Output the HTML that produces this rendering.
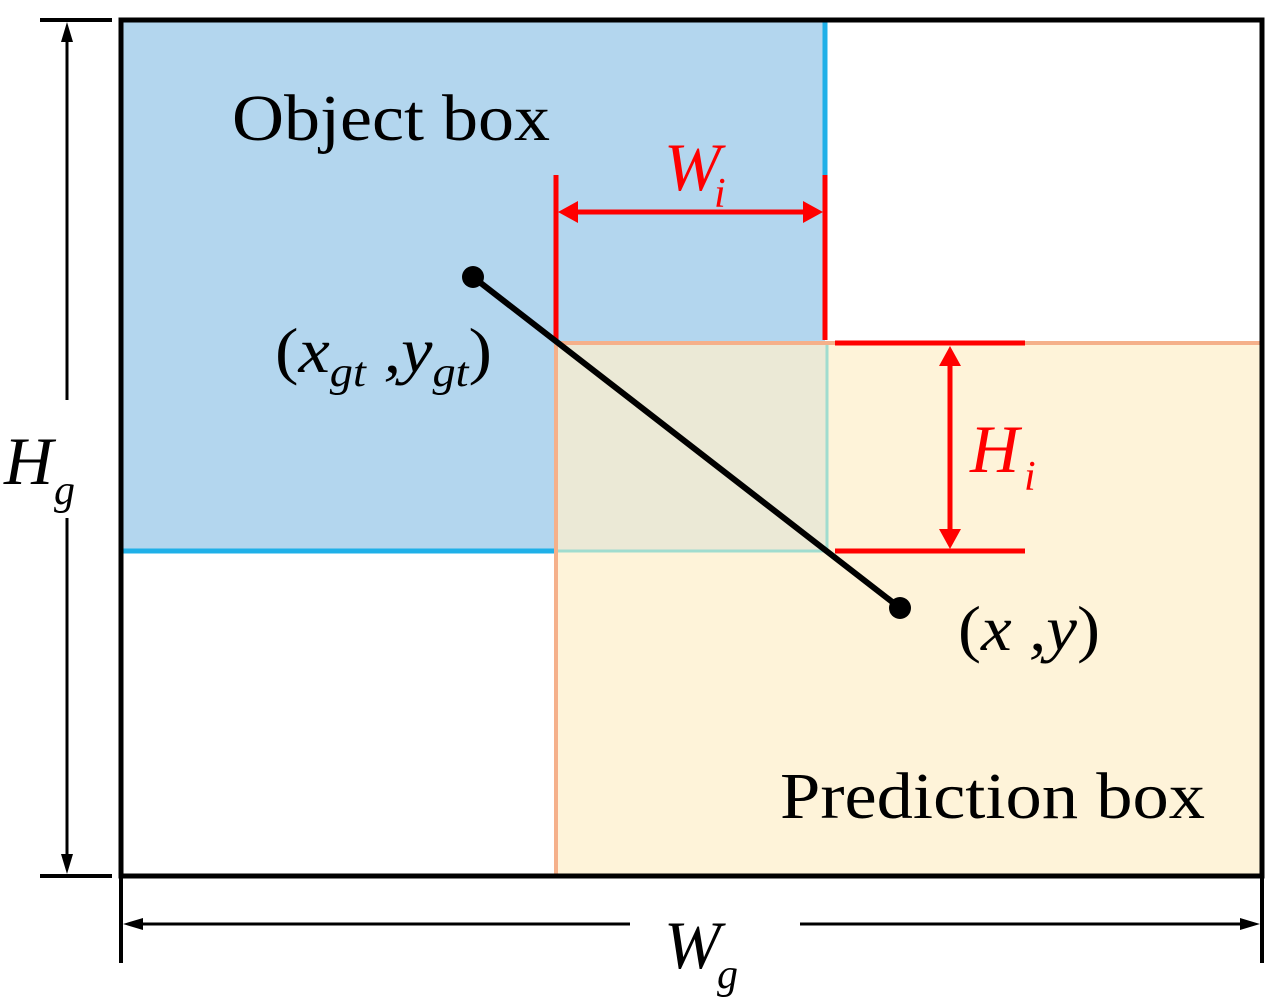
<!DOCTYPE html>
<html><head><style>body{margin:0;background:#fff}svg{display:block}text{font-family:"Liberation Serif","DejaVu Serif",serif}</style></head><body>
<svg width="1280" height="1006" viewBox="0 0 1280 1006" xmlns="http://www.w3.org/2000/svg">
<rect x="121" y="20" width="704" height="531" fill="#b3d6ee"/>
<rect x="556" y="343" width="704" height="533" fill="#fef3d9"/>
<rect x="556" y="343" width="271" height="208" fill="#ebe9d6"/>
<line x1="825" y1="20" x2="825" y2="175" stroke="#1fb0e8" stroke-width="5"/>
<line x1="121" y1="551" x2="554" y2="551" stroke="#1fb0e8" stroke-width="5"/>
<line x1="556" y1="343" x2="1260" y2="343" stroke="#f5b08a" stroke-width="4"/>
<line x1="556" y1="343" x2="556" y2="876" stroke="#f5b08a" stroke-width="4"/>
<line x1="827" y1="345" x2="827" y2="551" stroke="#a0dccf" stroke-width="3"/>
<line x1="558" y1="551" x2="827" y2="551" stroke="#a0dccf" stroke-width="3"/>
<rect x="121" y="20" width="1141" height="856" fill="none" stroke="#000" stroke-width="5"/>
<g stroke="red" stroke-width="5">
<line x1="556" y1="175" x2="556" y2="343"/>
<line x1="825" y1="175" x2="825" y2="340"/>
<line x1="835" y1="343" x2="1025" y2="343"/>
<line x1="835" y1="551" x2="1025" y2="551"/>
<line x1="570" y1="212" x2="810" y2="212"/>
<line x1="950" y1="360" x2="950" y2="535"/>
</g>
<path d="M558,212l20,-11v22z M823,212l-20,-11v22z M950,346l-11,20h22z M950,549l-11,-20h22z" fill="red"/>
<line x1="473" y1="277" x2="900" y2="608" stroke="#000" stroke-width="6"/>
<circle cx="473" cy="277" r="11"/><circle cx="900" cy="608" r="11"/>
<g stroke="#000" stroke-width="4">
<line x1="40" y1="20" x2="112" y2="20"/><line x1="40" y1="876" x2="112" y2="876"/>
<line x1="121" y1="876" x2="121" y2="963"/><line x1="1262" y1="876" x2="1262" y2="963"/>
</g>
<g stroke="#000" stroke-width="3">
<line x1="67" y1="38" x2="67" y2="400"/><line x1="67" y1="518" x2="67" y2="858"/>
<line x1="140" y1="924" x2="630" y2="924"/><line x1="800" y1="924" x2="1244" y2="924"/>
</g>
<path d="M67,22l-6,20h12z M67,874l-6,-20h12z M123,924l20,-6v12z M1260,924l-20,-6v12z" fill="#000"/>
<text x="232" y="140" font-size="66" textLength="318" lengthAdjust="spacingAndGlyphs">Object box</text>
<text x="780" y="818" font-size="66" textLength="425" lengthAdjust="spacingAndGlyphs">Prediction box</text>
<g font-style="italic" fill="red">
<text x="664" y="190" font-size="68">W</text><text x="714" y="207" font-size="42">i</text>
<text x="970" y="472" font-size="68">H</text><text x="1024" y="490" font-size="42">i</text>
</g>
<g font-style="italic">
<text x="4" y="484" font-size="68">H</text><text x="54" y="504" font-size="42">g</text>
<text x="664" y="968" font-size="68">W</text><text x="717" y="988" font-size="42">g</text>
<text x="275" y="372" font-size="64" textLength="217" lengthAdjust="spacingAndGlyphs"><tspan font-style="normal">(</tspan>x<tspan font-size="42" dy="14">gt</tspan><tspan dy="-14"> ,y</tspan><tspan font-size="42" dy="14">gt</tspan><tspan font-style="normal" dy="-14">)</tspan></text>
<text x="958" y="650" font-size="64" textLength="142" lengthAdjust="spacingAndGlyphs"><tspan font-style="normal">(</tspan>x ,y<tspan font-style="normal">)</tspan></text>
</g>
</svg>
</body></html>
